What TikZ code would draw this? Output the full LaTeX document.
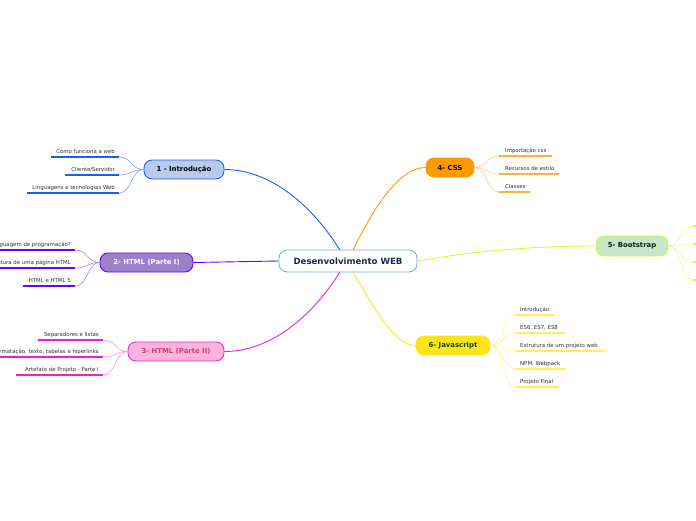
\documentclass[tikz,border=0pt]{standalone}
\usepackage{fontspec}
\setmainfont{DejaVu Sans}
\definecolor{cblue}{HTML}{1A5CFF}
\definecolor{cbluel}{HTML}{7F9FFF}
\definecolor{cpur}{HTML}{6A00FF}
\definecolor{cpurl}{HTML}{B080FF}
\definecolor{cpurf}{HTML}{9D80CA}
\definecolor{cmag}{HTML}{E81EE8}
\definecolor{cmagl}{HTML}{F590F5}
\definecolor{cmagf}{HTML}{FFB5DA}
\definecolor{cmagt}{HTML}{C8407E}
\definecolor{corg}{HTML}{FF9900}
\definecolor{corgu}{HTML}{FFB040}
\definecolor{corgl}{HTML}{FFCC88}
\definecolor{cgrn}{HTML}{CCFF33}
\definecolor{cgrnl}{HTML}{E4FF88}
\definecolor{cgrnf}{HTML}{C8E6C9}
\definecolor{cyel}{HTML}{FFE41A}
\definecolor{cyelu}{HTML}{FFEE55}
\definecolor{cyell}{HTML}{FFF099}
\definecolor{ctxt}{HTML}{333333}
\definecolor{cnavy}{HTML}{1A2A4A}
\definecolor{cborder}{HTML}{6FA8DC}
\definecolor{c1fill}{HTML}{B8CBEE}
\begin{document}
\begin{tikzpicture}[x=1pt,y=-1pt,
  topic/.style={rectangle,rounded corners=8pt,line width=0.9pt,inner sep=0pt,font=\fontsize{6.9}{8}\selectfont\bfseries,minimum height=19pt},
  leaf/.style={font=\fontsize{5.4}{6}\selectfont,text=ctxt,inner sep=0pt},
  uline/.style={line width=1.3pt},
  sub/.style={line width=0.6pt},
  mainc/.style={line width=0.9pt}]
\useasboundingbox (0,0) rectangle (696,520);
% central
\node[rectangle,rounded corners=8pt,draw=cborder,fill=white,line width=0.8pt,minimum width=138pt,minimum height=22pt,inner sep=0pt,font=\fontsize{8.6}{10}\selectfont\bfseries,text=cnavy] (c) at (348,261) {Desenvolvimento WEB};
% topics
\node[topic,fill=c1fill,draw=cblue,minimum width=80pt] (t1) at (184,169.5) {1 - Introdução};
\node[topic,fill=cpurf,draw=cpur,minimum width=93pt,text=white] (t2) at (146.5,262.5) {2- HTML (Parte I)};
\node[topic,fill=cmagf,draw=cmag,minimum width=96pt,text=cmagt] (t3) at (176,351.5) {3- HTML (Parte II)};
\node[topic,fill=corg,draw=corg,minimum width=48pt,text=black] (t4) at (450,167.5) {4- CSS};
\node[topic,fill=cgrnf,draw=cgrn,minimum width=72pt,minimum height=20pt,text=black!85!green] (t5) at (632,246) {5- Bootstrap};
\node[topic,fill=cyel,draw=cyel,minimum width=74pt,text=green!30!black] (t6) at (453,345.5) {6- Javascript};
% main connectors
\coordinate (c1) at (340,250.2);
\coordinate (c3) at (340,271.8);
\coordinate (c4) at (353,250.2);
\coordinate (c6) at (353,271.8);
\draw[mainc,cblue] (c1) .. controls (312,205) and (270,169.5) .. (t1.east);
\draw[mainc,cmag] (c3) .. controls (312,317) and (270,351.5) .. (t3.east);
\draw[mainc,corg] (c4) .. controls (375,205) and (400,167.5) .. (t4.west);
\draw[mainc,cyel] (c6) .. controls (375,310) and (395,345.5) .. (t6.west);
\draw[mainc,cpur] (c.west) -- (t2.east);
\draw[mainc,cgrn] (c.east) .. controls (480,250) and (540,246) .. (t5.west);
% topic 1 children
\foreach \n/\xa/\y/\t in {a/51/157/{Como funciona a web},b/65/175/{Cliente/Servidor},c/27/193/{Linguagens e tecnologias Web}}{
  \coordinate (l1\n) at (119,\y);
  \coordinate (s1\n) at (\xa,\y);
  \draw[uline,cblue] (s1\n) -- (l1\n);
  \node[leaf,anchor=base east] (x1\n) at (115,\y-3.6) {\t};
  \draw[sub,cbluel] (t1.west) .. controls (131,169.5) and (132,\y) .. (l1\n);
}
% topic 2 children
\foreach \n/\xa/\y/\t in {a/-1/250/{HTML é uma linguagem de programação?},b/-1/268/{Estrutura de uma página HTML},c/23/286/{HTML e HTML 5}}{
  \coordinate (l2\n) at (75,\y);
  \coordinate (s2\n) at (\xa,\y);
  \draw[uline,cpur] (s2\n) -- (l2\n);
  \node[leaf,anchor=base east] (x2\n) at (71,\y-3.6) {\t};
  \draw[sub,cpurl] (t2.west) .. controls (87,262.5) and (88,\y) .. (l2\n);
}
% topic 3 children
\foreach \n/\xa/\y/\t in {a/38/340/{Separadores e listas},b/-1/357/{Formatação, texto, tabelas e hiperlinks},c/16/375/{Artefato de Projeto - Parte I}}{
  \coordinate (l3\n) at (103,\y);
  \coordinate (s3\n) at (\xa,\y);
  \draw[uline,cmag] (s3\n) -- (l3\n);
  \node[leaf,anchor=base east] (x3\n) at (99,\y-3.6) {\t};
  \draw[sub,cmagl] (t3.west) .. controls (115,351.5) and (116,\y) .. (l3\n);
}
% topic 4 children
\foreach \n/\xb/\y/\t in {a/552/156/{Importação css},b/559/174/{Recursos de estilo},c/530/192/{Classes}}{
  \coordinate (l4\n) at (499,\y);
  \coordinate (e4\n) at (\xb,\y);
  \draw[uline,corgu] (l4\n) -- (e4\n);
  \node[leaf,anchor=base west] (x4\n) at (505,\y-3.6) {\t};
  \draw[sub,corgl] (t4.east) .. controls (487,167.5) and (486,\y) .. (l4\n);
}
% topic 5 children
\foreach \n/\y in {a/226,b/244,c/262,d/280}{
  \coordinate (l5\n) at (693,\y);
  \coordinate (e5\n) at (700,\y);
  \draw[uline,cgrn] (l5\n) -- (e5\n);
  \draw[sub,cgrnl] (t5.east) .. controls (681,246) and (680,\y) .. (l5\n);
}
% topic 6 children
\foreach \n/\xb/\y/\t in {a/555/315/{Introdução},b/565/333/{ES6, ES7, ES8},c/605/351/{Estrutura de um projeto web},d/566/369/{NPM, Webpack},e/559/387/{Projeto Final}}{
  \coordinate (l6\n) at (516,\y);
  \coordinate (e6\n) at (\xb,\y);
  \draw[uline,cyelu] (l6\n) -- (e6\n);
  \node[leaf,anchor=base west] (x6\n) at (520,\y-3.6) {\t};
  \draw[sub,cyell] (t6.east) .. controls (504,345.5) and (502,\y) .. (l6\n);
}
\end{tikzpicture}
\end{document}
